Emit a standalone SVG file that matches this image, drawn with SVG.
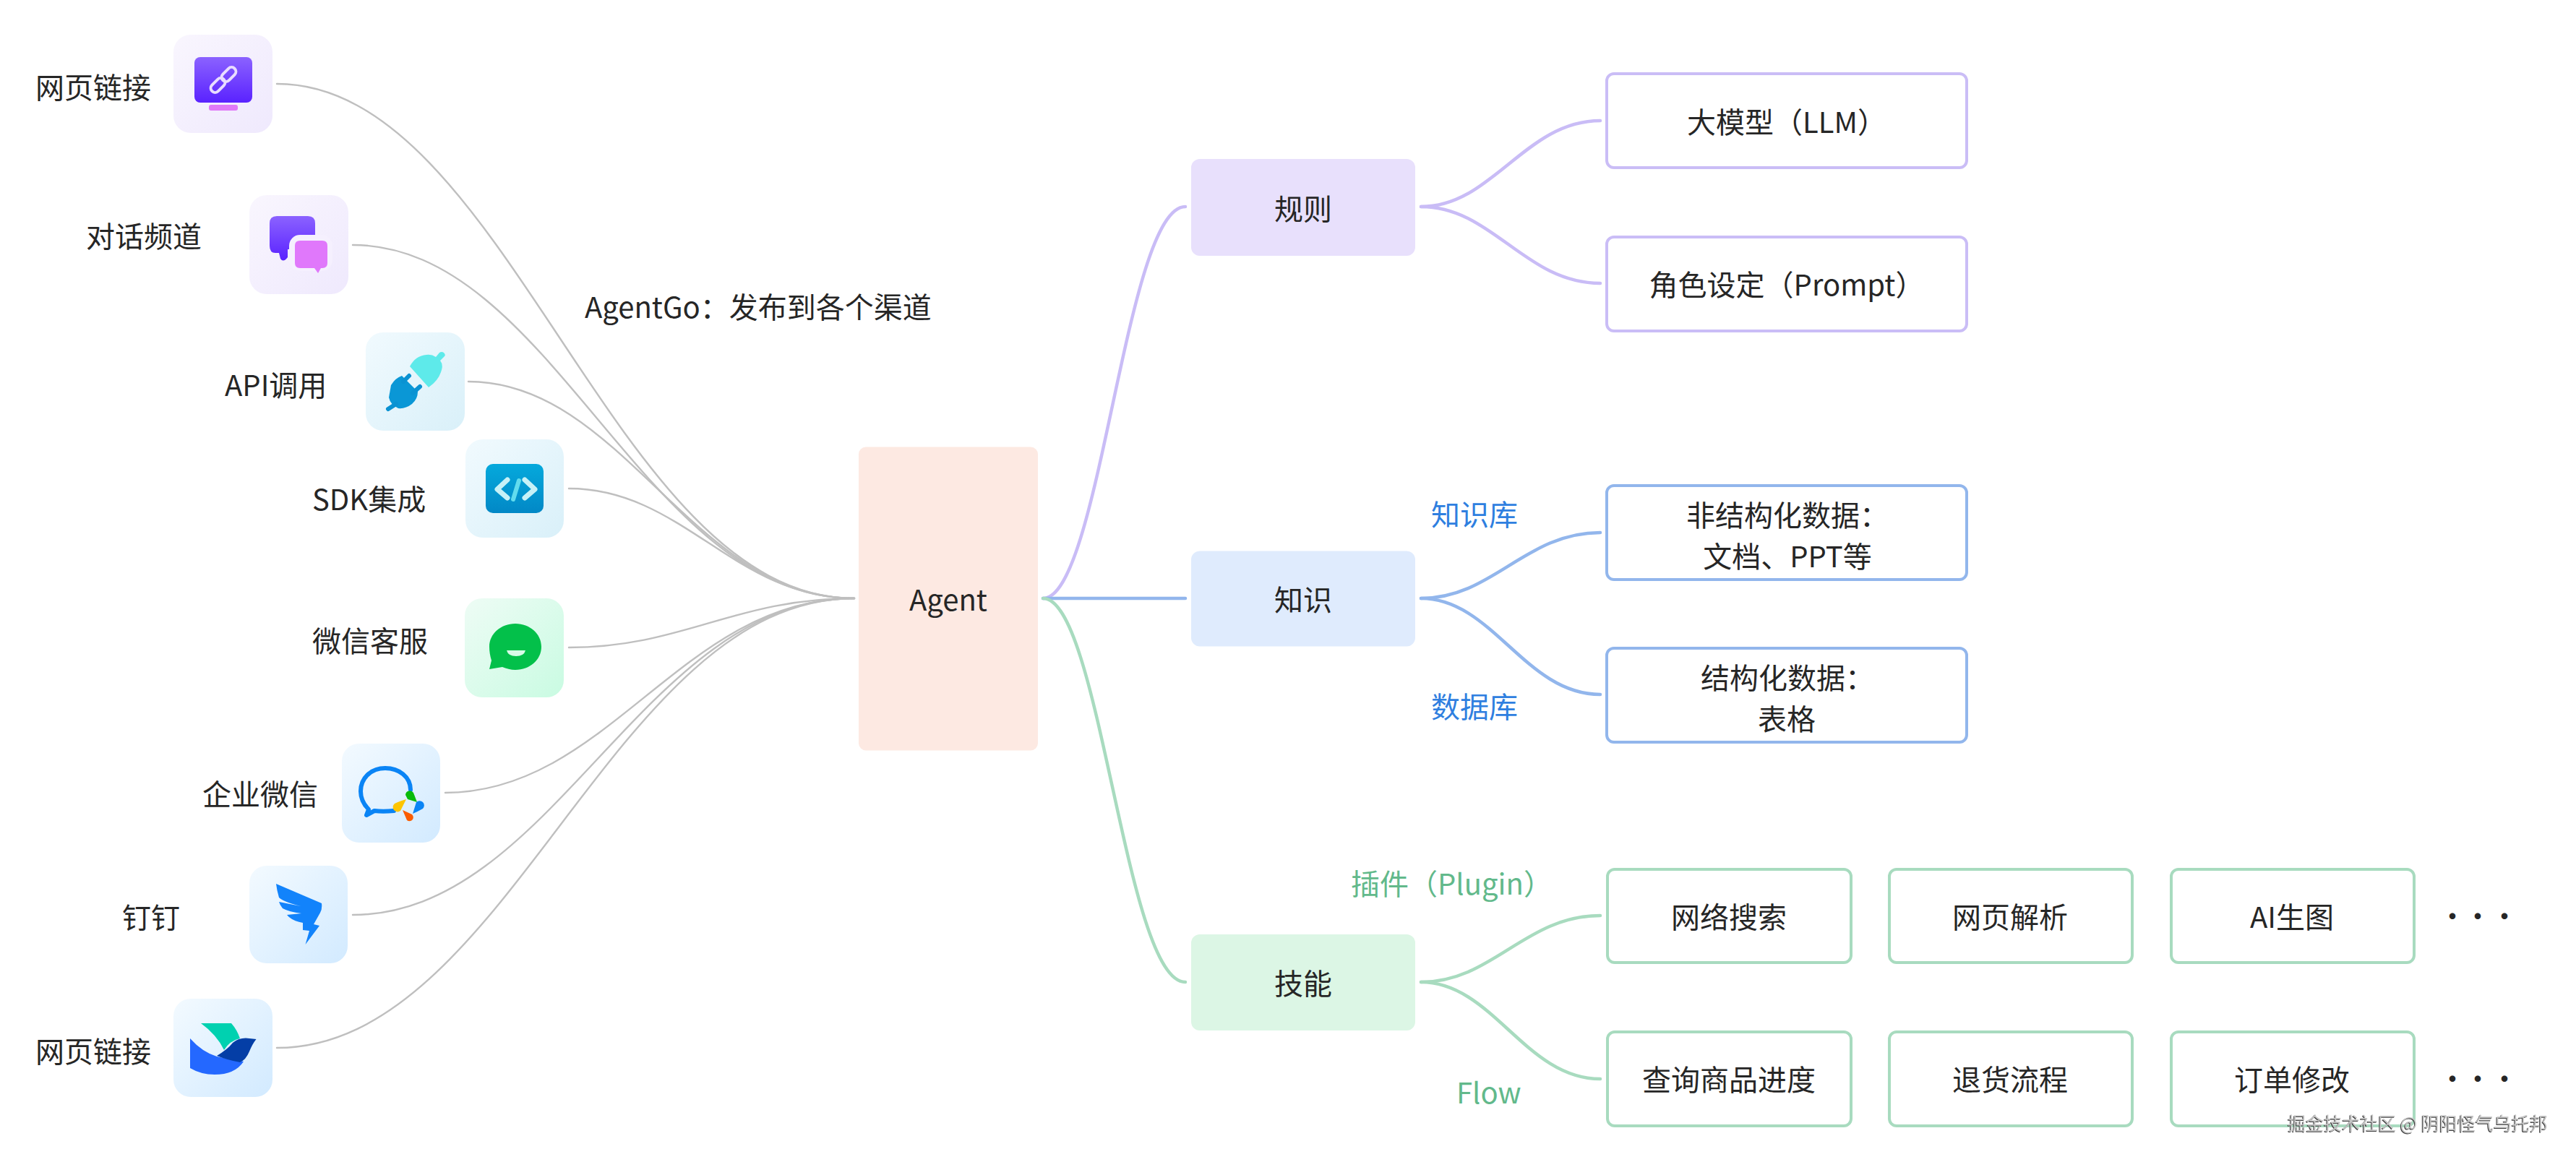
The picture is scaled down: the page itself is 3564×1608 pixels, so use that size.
<svg xmlns="http://www.w3.org/2000/svg" width="3564" height="1608" viewBox="0 0 3564 1608">
<style>
text{font-family:"Noto Sans CJK SC","Noto Sans",sans-serif;font-size:40px;fill:#262626}
.m{text-anchor:middle}
.blue{fill:#2f7fe0}
.green{fill:#62b98b}
.conn{fill:none;stroke-linecap:round}
.g{stroke:#bfbfbf;stroke-width:2.4}
.p{stroke:#c9bcf6;stroke-width:4.5}
.b{stroke:#92b6ec;stroke-width:4.5}
.n{stroke:#a8dbbf;stroke-width:4.5}
.box{fill:#fff;stroke-width:4}
.bp{stroke:#cabdf6}
.bb{stroke:#92b6ec}
.bn{stroke:#a8dbbf}
.wm{font-size:25px;fill:#c4c4c4;filter:drop-shadow(-1px 1px 0.6px #3c3c3c)}
</style>
<defs>
<linearGradient id="bgP" x1="0" y1="0" x2="1" y2="1"><stop offset="0" stop-color="#f9f6fe"/><stop offset="1" stop-color="#efe9fd"/></linearGradient>
<linearGradient id="bgC" x1="0" y1="0" x2="1" y2="1"><stop offset="0" stop-color="#f1fafe"/><stop offset="1" stop-color="#d9f0f9"/></linearGradient>
<linearGradient id="bgG" x1="0" y1="0" x2="1" y2="1"><stop offset="0" stop-color="#eefcf5"/><stop offset="1" stop-color="#c9fbe2"/></linearGradient>
<linearGradient id="bgB" x1="0" y1="0" x2="1" y2="1"><stop offset="0" stop-color="#f3faff"/><stop offset="1" stop-color="#d2eaff"/></linearGradient>
<linearGradient id="vio" x1="0" y1="0" x2="0" y2="1"><stop offset="0" stop-color="#8b62ff"/><stop offset="1" stop-color="#5a22ff"/></linearGradient>
<linearGradient id="azure" x1="0" y1="0" x2="0" y2="1"><stop offset="0" stop-color="#05a9dc"/><stop offset="1" stop-color="#0288c6"/></linearGradient>
</defs>
<rect width="3564" height="1608" fill="#fff"/>
<g id="connectors">
<path class="conn g" d="M383 116C703 116 848 828 1182 828"/>
<path class="conn g" d="M488 339C766 339 890 828 1182 828"/>
<path class="conn g" d="M648 528C862 528 958 828 1182 828"/>
<path class="conn g" d="M787 676C945 676 1016 828 1182 828"/>
<path class="conn g" d="M787 896C945 896 1016 828 1182 828"/>
<path class="conn g" d="M616 1097C842 1097 944 828 1182 828"/>
<path class="conn g" d="M488 1266C766 1266 890 828 1182 828"/>
<path class="conn g" d="M383 1450C703 1450 848 828 1182 828"/>
<path class="conn p" d="M1443 828C1522 828 1557 286 1640 286"/>
<path class="conn b" d="M1443 828H1640"/>
<path class="conn n" d="M1443 828C1522 828 1557 1359 1640 1359"/>
<path class="conn p" d="M1966 286C2065 286 2110 167 2214 167"/>
<path class="conn p" d="M1966 286C2065 286 2110 392 2214 392"/>
<path class="conn b" d="M1966 828C2065 828 2110 737 2214 737"/>
<path class="conn b" d="M1966 828C2065 828 2110 961 2214 961"/>
<path class="conn n" d="M1966 1359C2065 1359 2110 1267 2214 1267"/>
<path class="conn n" d="M1966 1359C2065 1359 2110 1493 2214 1493"/>
</g>
<g id="ch-web1">
<text x="49" y="136">网页链接</text>
<rect x="240" y="48" width="137" height="136" rx="24" fill="url(#bgP)"/>
<rect x="269" y="79" width="80" height="63" rx="8" fill="url(#vio)"/>
<rect x="289" y="145" width="40" height="8" rx="3" fill="#e079f8"/>
<g fill="none" stroke="#e9dcff" stroke-width="4"><rect x="290" y="112" width="23" height="12" rx="6" transform="rotate(-45 301.500 118)"/><rect x="305" y="97" width="23" height="12" rx="6" transform="rotate(-45 316.500 103)"/></g>
</g>
<g id="ch-chat">
<text x="119" y="342">对话频道</text>
<rect x="345" y="270" width="137" height="137" rx="24" fill="url(#bgP)"/>
<path d="M383 299H426Q436 299 436 309V345H398V356Q392 364 388 358L386 350H381Q373 350 373 340V309Q373 299 383 299Z" fill="url(#vio)"/>
<rect x="400" y="325" width="60" height="50" rx="15" fill="#f5f0fe"/>
<path d="M415 333H446Q453 333 453 340V364Q453 371 446 371H444L440 378L435 371H415Q408 371 408 364V340Q408 333 415 333Z" fill="#e078fb"/>
</g>
<g id="ch-api">
<text x="311" y="548">API调用</text>
<rect x="506" y="460" width="137" height="136" rx="24" fill="url(#bgC)"/>
<path d="M567 507Q575 492 590 491Q597 490 603 494L608 488Q611 486 614 488Q617 491 615 493L609 499Q614 505 610 515Q606 527 593 536Z" fill="#5eeaea"/>
<path d="M541 533Q547 523 556 520L578 542Q578 552 570 559Q561 566 551 565Q540 560 538 550Z" fill="#0a97d6"/>
<g stroke="#0a92d2" stroke-width="6" stroke-linecap="round"><path d="M558 528L566 520M571 544L581 535M548 559L537 566"/></g>
</g>
<g id="ch-sdk">
<text x="432" y="706">SDK集成</text>
<rect x="644" y="608" width="136" height="136" rx="24" fill="url(#bgC)"/>
<rect x="672" y="642" width="80" height="68" rx="10" fill="url(#azure)"/>
<path d="M702 664L688 677L702 689M726 664L740 677L726 689" fill="none" stroke="#c6f1f7" stroke-width="7" stroke-linecap="round" stroke-linejoin="round"/>
<path d="M718 665L710 691" stroke="#62dcee" stroke-width="6" stroke-linecap="round"/>
</g>
<g id="ch-wechat">
<text x="432" y="902">微信客服</text>
<rect x="643" y="828" width="137" height="137" rx="24" fill="url(#bgG)"/>
<path d="M713 863C733 863 749 877 749 895C749 913 733 927 713 927C707 927 700 925 695 923L677 926L680 914C678 908 677 901 677 895C677 877 693 863 713 863Z" fill="#03c04a"/>
<path d="M701 900H727Q725 908 714 908Q703 908 701 900Z" fill="#d8fbe8"/>
</g>
<g id="ch-wecom">
<text x="280" y="1114">企业微信</text>
<rect x="473" y="1029" width="136" height="137" rx="24" fill="url(#bgB)"/>
<path d="M568 1093C568 1075 552 1063 533 1063C513 1063 499 1077 499 1095C499 1105 503 1113 510 1120L507 1128L518 1122C525 1123 535 1123 545 1122" fill="none" stroke="#0a84f5" stroke-width="6" stroke-linecap="round" stroke-linejoin="round"/>
<path d="M561 1100A6 6 0 0 1 572 1097L577 1110L564 1106Z" fill="#08bb09"/>
<path d="M562 1106L554 1122A6 6 0 0 1 546 1112Q552 1109 562 1106Z" fill="#fdc500"/>
<path d="M557 1121L570 1127A5 5 0 0 1 563 1135Q560 1128 557 1121Z" fill="#fa5c00"/>
<path d="M571 1126L576 1110A6 6 0 0 1 585 1119Q578 1123 571 1126Z" fill="#0a84f5"/>
</g>
<g id="ch-ding">
<text x="169" y="1285">钉钉</text>
<rect x="345" y="1198" width="136" height="135" rx="24" fill="url(#bgB)"/>
<path d="M382 1223L445 1250Q446 1258 443 1263L434 1279L442 1281L422.500 1307L428 1288L419 1287L419 1277Q403 1274 397 1266L417 1264Q400 1262 391 1257Q387 1252 386 1248L416 1254Q392 1248 386 1242Q383 1232 382 1223Z" fill="#1283fb"/>
</g>
<g id="ch-web2">
<text x="49" y="1470">网页链接</text>
<rect x="240" y="1382" width="137" height="136" rx="24" fill="url(#bgB)"/>
<path d="M278 1416H320Q328 1425 332 1437Q318 1440 310 1453Q300 1432 278 1416Z" fill="#00d1b0"/>
<path d="M263 1437Q280 1456 300 1462Q318 1466 337 1469Q325 1487 297 1487Q278 1487 263 1478Z" fill="#2468ff"/>
<path d="M300 1461Q315 1452 322 1443Q332 1435 345 1437L354.500 1438Q349 1445 345 1455Q340 1467 332 1470Q315 1467 300 1461Z" fill="#043ea6"/>
</g>
<g id="lbl-agentgo"><text x="809" y="440">AgentGo：发布到各个渠道</text></g>
<g id="agent"><rect x="1188" y="618.500" width="248" height="420" rx="10" fill="#fde9e2"/><text class="m" x="1312" y="845">Agent</text></g>
<g id="rule"><rect x="1648" y="220" width="310" height="134" rx="12" fill="#e8e0fc"/><text class="m" x="1803" y="304">规则</text></g>
<g id="know"><rect x="1648" y="762.500" width="310" height="132" rx="12" fill="#dfebfd"/><text class="m" x="1803" y="845">知识</text></g>
<g id="skill"><rect x="1648" y="1293" width="310" height="133" rx="12" fill="#dcf6e5"/><text class="m" x="1803" y="1376">技能</text></g>
<g id="llm"><rect class="box bp" x="2223" y="102" width="498" height="130" rx="10"/><text class="m" x="2472" y="184">大模型（LLM）</text></g>
<g id="prompt"><rect class="box bp" x="2223" y="328" width="498" height="130" rx="10"/><text class="m" x="2472" y="409">角色设定（Prompt）</text></g>
<g id="unstruct"><rect class="box bb" x="2223" y="672" width="498" height="130" rx="10"/><text class="m" x="2473" y="728">非结构化数据：</text><text class="m" x="2473" y="785">文档、PPT等</text></g>
<g id="struct"><rect class="box bb" x="2223" y="897" width="498" height="130" rx="10"/><text class="m" x="2473" y="953">结构化数据：</text><text class="m" x="2472" y="1010">表格</text></g>
<g id="lbl-kb"><text class="blue" x="1980" y="727">知识库</text></g>
<g id="lbl-db"><text class="blue" x="1980" y="993">数据库</text></g>
<g id="lbl-plugin"><text class="green" x="1869" y="1238">插件（Plugin）</text></g>
<g id="lbl-flow"><text class="green" x="2015" y="1527">Flow</text></g>
<g id="s1"><rect class="box bn" x="2224" y="1203" width="337" height="129" rx="10"/><text class="m" x="2392" y="1284">网络搜索</text></g>
<g id="s2"><rect class="box bn" x="2614" y="1203" width="336" height="129" rx="10"/><text class="m" x="2781" y="1284">网页解析</text></g>
<g id="s3"><rect class="box bn" x="3004" y="1203" width="336" height="129" rx="10"/><text class="m" x="3171" y="1284">AI生图</text></g>
<g id="s4"><text class="m" x="3393 3428 3465" y="1283">···</text></g>
<g id="f1"><rect class="box bn" x="2224" y="1428" width="337" height="130" rx="10"/><text class="m" x="2392" y="1509">查询商品进度</text></g>
<g id="f2"><rect class="box bn" x="2614" y="1428" width="336" height="130" rx="10"/><text class="m" x="2781" y="1509">退货流程</text></g>
<g id="f3"><rect class="box bn" x="3004" y="1428" width="336" height="130" rx="10"/><text class="m" x="3171" y="1509">订单修改</text></g>
<g id="f4"><text class="m" x="3393 3428 3465" y="1508">···</text></g>
<g id="watermark"><text class="wm" x="3165" y="1564">掘金技术社区 @ 阴阳怪气乌托邦</text></g>
</svg>
